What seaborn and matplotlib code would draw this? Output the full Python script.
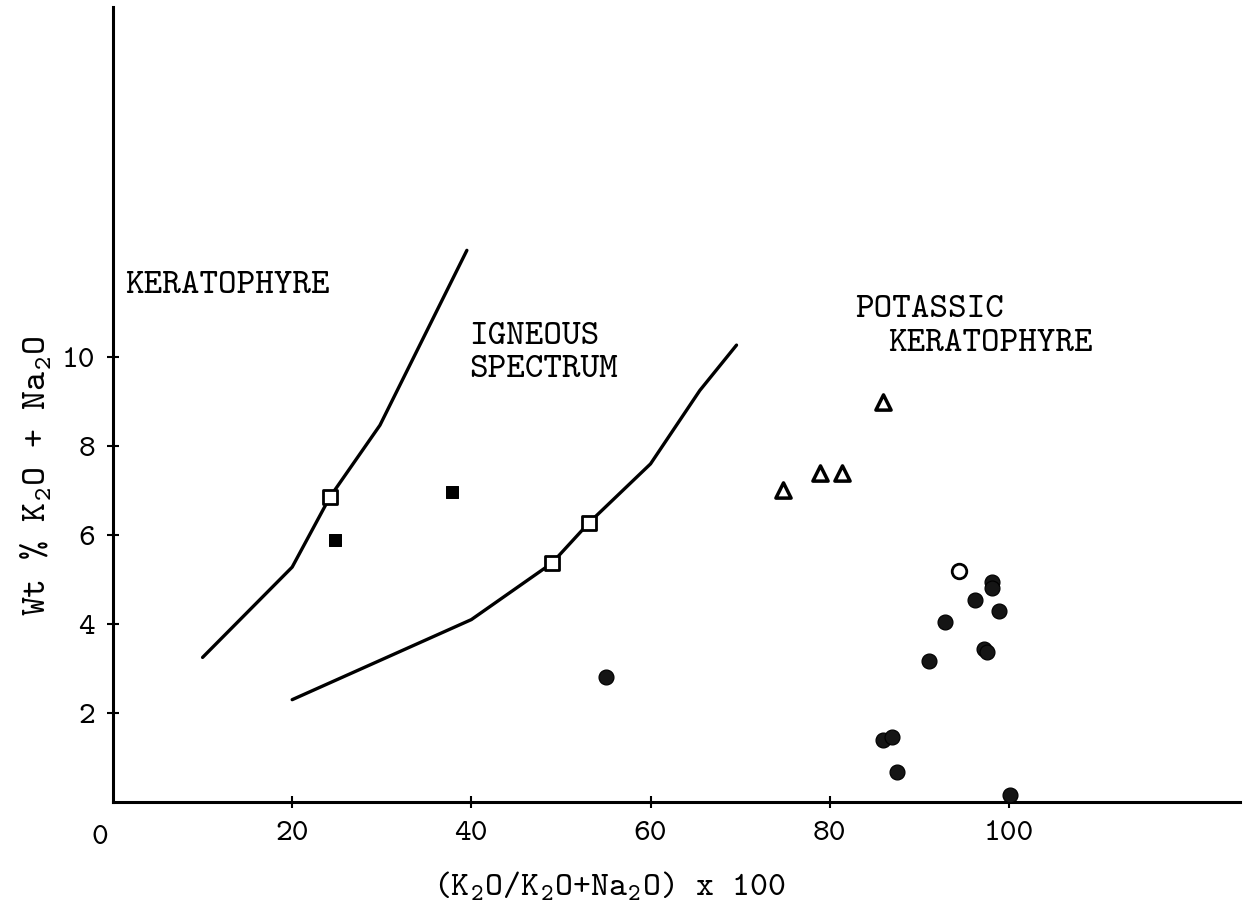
import numpy as np
import pandas as pd
import seaborn as sns
import matplotlib.pyplot as plt

# boundary curves
keratophyre_line_x = [10, 20, 24.2, 29.8, 39.5]
keratophyre_line_y = [3.25, 5.28, 6.85, 8.47, 12.4]
igneous_line_x = [20, 40, 49.0, 53.1, 60, 65.5, 69.6]
igneous_line_y = [2.3, 4.1, 5.37, 6.27, 7.6, 9.25, 10.27]

# samples
open_sq_x = [24.2, 49.0, 53.1]
open_sq_y = [6.85, 5.37, 6.27]
filled_sq_x = [24.8, 37.8]
filled_sq_y = [5.89, 6.97]
tri_x = [74.8, 78.9, 81.4, 85.9]
tri_y = [7.01, 7.39, 7.39, 8.99]
open_circ_x = [94.4]
open_circ_y = [5.19]
filled_circ_x = [55.0, 98.1, 98.1, 96.2, 98.9, 92.9, 97.2, 97.6, 91.1, 86.0, 86.9, 87.5, 100.1]
filled_circ_y = [2.81, 4.95, 4.82, 4.55, 4.29, 4.04, 3.45, 3.38, 3.18, 1.39, 1.47, 0.68, 0.16]

x_ticks = [20, 40, 60, 80, 100]
y_ticks = [2, 4, 6, 8, 10]

sns.set_style("ticks")
plt.rcParams['font.family'] = ['cmtt10', 'DejaVu Sans Mono']
plt.rcParams['mathtext.fontset'] = 'custom'
plt.rcParams['mathtext.rm'] = 'cmtt10'
plt.rcParams['mathtext.default'] = 'regular'
plt.rcParams['axes.formatter.use_mathtext'] = True
for key in ['text.color', 'axes.labelcolor', 'axes.edgecolor', 'xtick.color', 'ytick.color']:
    plt.rcParams[key] = 'black'

fig = plt.figure(figsize=(12.47, 9.18), dpi=100)
ax = fig.add_axes([113 / 1247, 116 / 918, 1127 / 1247, 795 / 918])

sns.lineplot(x=keratophyre_line_x, y=keratophyre_line_y, sort=False, color='black', lw=2.4, ax=ax)
sns.lineplot(x=igneous_line_x, y=igneous_line_y, sort=False, color='black', lw=2.4, ax=ax)

sns.scatterplot(x=filled_sq_x, y=filled_sq_y, marker='s', s=80, color='black', edgecolor='black', ax=ax, zorder=3)
sns.scatterplot(x=open_sq_x, y=open_sq_y, marker='s', s=90, color='white', edgecolor='black', linewidth=2, ax=ax, zorder=3)
sns.scatterplot(x=tri_x, y=tri_y, marker='^', s=120, color='white', edgecolor='black', linewidth=2.5, ax=ax, zorder=3)
sns.scatterplot(x=open_circ_x, y=open_circ_y, marker='o', s=110, color='white', edgecolor='black', linewidth=2, ax=ax, zorder=3)
sns.scatterplot(x=filled_circ_x, y=filled_circ_y, marker='o', s=115, color='#151515', edgecolor='black', ax=ax, zorder=3)

ax.set_xlim(0, 125.8)
ax.set_ylim(0, 17.87)
ax.set_xticks(x_ticks)
ax.set_xticklabels([str(t) for t in x_ticks])
ax.set_yticks(y_ticks)
ax.set_yticklabels([str(t) for t in y_ticks])
ax.tick_params(direction='inout', length=8, width=1.5, labelsize=23)
ax.tick_params(axis='x', pad=10)
ax.tick_params(axis='y', pad=9)
for side in ['top', 'right']:
    ax.spines[side].set_visible(False)
for side in ['left', 'bottom']:
    ax.spines[side].set_linewidth(2.2)

ax.text(-1.45, -0.82, '0', fontsize=23, ha='center', va='center', clip_on=False)

ax.set_xlabel('(K$_2$O/K$_2$O+Na$_2$O) x 100', fontsize=24.5)
ax.set_ylabel('Wt % K$_2$O + Na$_2$O', fontsize=26)
ax.xaxis.set_label_coords(0.44, -0.085)
ax.yaxis.set_label_coords(-0.052, 0.41)

ax.text(1.3, 11.6, 'KERATOPHYRE', fontsize=25.5, va='center')
ax.text(39.8, 10.45, 'IGNEOUS', fontsize=25.5, va='center')
ax.text(39.8, 9.7, 'SPECTRUM', fontsize=25.5, va='center')
ax.text(82.8, 11.06, 'POTASSIC', fontsize=25.5, va='center')
ax.text(86.5, 10.3, 'KERATOPHYRE', fontsize=25.5, va='center')

fig.savefig('out.png', dpi=100)
